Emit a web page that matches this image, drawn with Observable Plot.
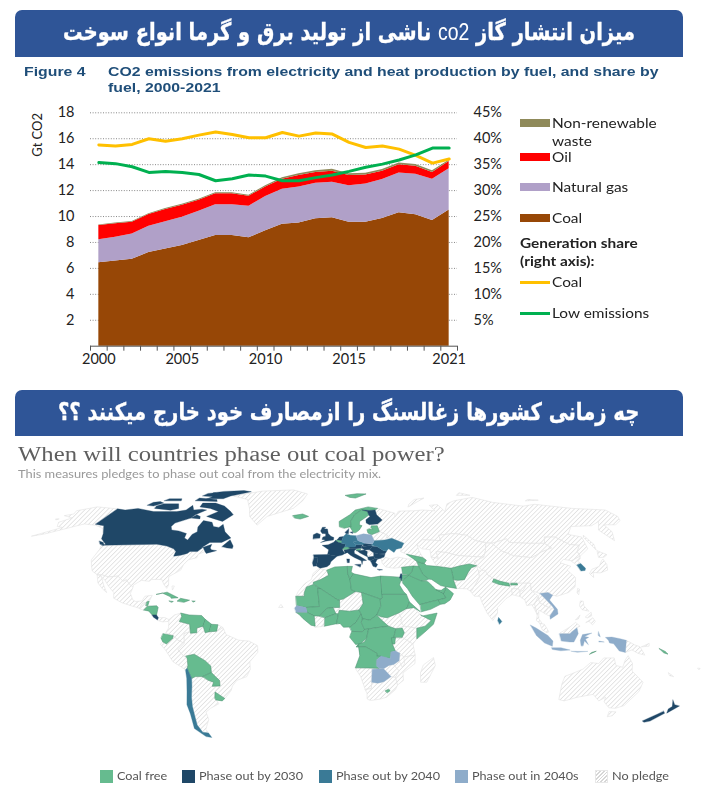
<!DOCTYPE html>
<html lang="fa"><head><meta charset="utf-8">
<script src="https://cdn.jsdelivr.net/npm/d3@7"></script>
<script src="https://cdn.jsdelivr.net/npm/@observablehq/plot@0.6"></script>
<style>
html,body{margin:0;padding:0;background:#fff}
#page{position:relative;width:711px;height:795px;overflow:hidden}
.abs{position:absolute;white-space:nowrap}
.banner{position:absolute;left:15px;width:668px;background:#2f5597;border-radius:7px 7px 0 0;color:#fff;font:bold 24px "DejaVu Sans";text-align:center;direction:rtl;unicode-bidi:isolate;white-space:nowrap;display:flex;justify-content:center}
.banner span.in{display:block;flex:none;-webkit-text-stroke:.35px #fff}
.banner i{font:400 24px "Liberation Sans";font-style:normal;-webkit-text-stroke:0}
.fig{font:bold 13.3px "Liberation Sans";color:#1f4e79;transform-origin:0 0;transform:scaleX(1.19)}
.lg{font:14px Lato;color:#222;transform-origin:0 0;transform:scaleX(1.1)}
.mlg{font:11.5px Lato;color:#555}
.sw{position:absolute}
svg{position:absolute;overflow:visible}
</style></head><body><div id="page"></div>
<script>
// ---------- Chart 1 data ----------
const years=[2000,2001,2002,2003,2004,2005,2006,2007,2008,2009,2010,2011,2012,2013,2014,2015,2016,2017,2018,2019,2020,2021];
const coal=[6.43,6.58,6.7,7.22,7.5,7.76,8.15,8.54,8.54,8.36,8.9,9.4,9.5,9.82,9.9,9.55,9.55,9.85,10.3,10.13,9.7,10.5];
const gas=[1.77,1.82,1.96,2.03,2.1,2.19,2.25,2.36,2.36,2.44,2.65,2.7,2.77,2.75,2.75,2.82,2.95,3.0,3.05,3.14,3.18,3.18];
const oil=[1.1,1.05,.89,.9,.95,.92,.85,.85,.85,.77,.72,.78,.9,.83,.85,.8,.7,.65,.65,.61,.52,.57];
const waste=[.05,.06,.07,.07,.07,.08,.08,.08,.08,.08,.1,.12,.13,.14,.14,.13,.13,.13,.13,.13,.13,.1];
const coalShare=[38.8,38.6,38.9,40,39.5,40,40.7,41.3,40.8,40.2,40.2,41.2,40.5,41.1,40.9,39.3,38.3,38.6,38,36.8,35.3,36.1];
const lowShare=[35.4,35.2,34.6,33.5,33.7,33.5,33.1,31.9,32.3,33,32.8,31.9,31.9,32.5,33,33.7,34.5,35.1,35.9,36.9,38.2,38.2];
const yTicks=[2,4,6,8,10,12,14,16,18];
const xLabels=[2000,2005,2010,2015,2021];
const bandEdges=[1999.5,2000.5,2001.5,2002.5,2003.5,2004.5,2005.5,2006.5,2007.5,2008.5,2009.5,2010.5,2011.5,2012.5,2013.5,2014.5,2015.5,2016.5,2017.5,2018.5,2019.5,2020.5,2021.5];
const fuels=["Coal","Natural gas","Oil","Non-renewable waste"];
const fuelColors=["#974706","#b0a0c8","#ff0000","#8f8a5a"];
const fuelValues=[coal,gas,oil,waste];

// ---------- Map data: [lon,lat] outlines ----------
const noPledge=[
[[-168,65.5],[-164,66.5],[-166,68.5],[-157,71],[-141,69.7],[-141,60.3],[-135,59.5],[-130,55],[-134,58],[-140,59.7],[-148,60.5],[-152,59],[-156,57.5],[-163,54.8],[-169,53.5],[-158,58.5],[-162,59],[-165,61.5],[-161,64]],
[[-124.7,48.4],[-95,49],[-89,48],[-84.5,46.5],[-82.5,45],[-82.5,42.5],[-79,43],[-76,44],[-75,45],[-71,45],[-69,47.3],[-67,45],[-70,43.5],[-70,41.7],[-74,40.5],[-75.5,38],[-76,35],[-81,31.5],[-80,27],[-80.5,25.2],[-82.5,27.5],[-84,30],[-89,30],[-90,29],[-94,29.5],[-97.3,27],[-97.2,25.9],[-99.5,27.5],[-101.5,29.8],[-103,29],[-106.5,31.8],[-111,31.3],[-114.8,32.5],[-117.1,32.5],[-120.5,34.5],[-122.5,37.5],[-124.3,40.5],[-124,46]],
[[-117.1,32.5],[-114.8,32.5],[-111,31.3],[-106.5,31.8],[-103,29],[-101.5,29.8],[-99.5,27.5],[-97.2,25.9],[-97.8,22.5],[-96,19],[-94.5,18.2],[-91.5,18.5],[-90.5,21],[-87,21.5],[-88,18],[-91,17.2],[-92.2,14.6],[-96,15.8],[-101,17.5],[-105.5,20],[-106,23],[-109,26],[-112.5,30],[-114.5,31]],
[[-117,32.5],[-114.7,31.7],[-112,27],[-109.5,23],[-112,25],[-115,28]],
[[-92.2,14.6],[-91,17.2],[-89,17.8],[-89.2,15.9],[-88.5,15.7],[-89.5,14.2],[-90.5,13.8]],
[[-83,8.3],[-82.6,9.5],[-79.5,9.6],[-77.5,8.5],[-78,7.5],[-80.5,7.3]],
[[-78,26.5],[-77,26.5],[-77.5,24.5]],
[[-55,82.5],[-73,78.5],[-60,76],[-54,70],[-51,65],[-44,59.8],[-40,65],[-25,70],[-20,75],[-18,80],[-30,83.5]],
[[-77.5,8.5],[-75,11],[-72,12],[-71.5,10],[-72.5,7.5],[-67.5,6],[-67.5,2],[-70,1],[-70,-4.2],[-73,-2.5],[-75.2,-.1],[-78.8,1.4],[-77.5,4],[-77.5,7]],
[[-81.3,-4.5],[-80.3,-3.4],[-78.5,-4.5],[-75.5,-1.5],[-75.2,-.1],[-73,-2.5],[-70,-4.2],[-73,-7.5],[-70.5,-11],[-69,-12.5],[-69,-16],[-69.5,-17.5],[-70.4,-18.3],[-76,-14],[-79,-8]],
[[-66,-22],[-62.5,-22],[-60,-24],[-57.5,-25],[-58.5,-27.2],[-54.6,-27],[-57.6,-30.2],[-58.4,-33.5],[-58,-34.5],[-57,-36.5],[-62,-39],[-65,-41],[-65,-45],[-69,-50.5],[-68.5,-52.5],[-71.5,-52],[-72.5,-48],[-71.8,-44],[-71,-38],[-70,-33],[-68.5,-27],[-68,-23]],
[[-73,-7.5],[-70,-4.2],[-70,1],[-67.5,2],[-67,1.2],[-64,1.5],[-64,4],[-61,5],[-60,1.5],[-58,2],[-54.5,2.3],[-51.5,4.2],[-50,.5],[-44,-2.5],[-39,-3],[-35,-5.5],[-35,-9],[-39,-14],[-39,-18],[-41,-22],[-46,-24],[-48.5,-27],[-49.5,-29.5],[-53.4,-33.7],[-57.6,-30.2],[-54.6,-27],[-54.5,-24],[-56,-22.3],[-58,-19.8],[-58,-16.3],[-60.5,-13.5],[-65.5,-10],[-69.5,-11],[-70.5,-11]],
[[-54,5.8],[-51.5,4.2],[-54.5,2.3]],
[[19.4,45],[20.5,46],[22.7,44.3],[22.5,42.4],[20.5,42.2],[19,43.2]],
[[28,60.5],[31.5,62.8],[29,66],[29,69],[31,70],[41,67],[40,64.7],[44,68.3],[54,68.5],[60,69],[68,68.5],[67,72],[73,72.5],[74,68],[80,73],[87,75],[104,77.5],[113,74],[130,71.5],[140,72.7],[160,70],[180,69],[180,65],[177,62.5],[170,60],[163,60],[162,56],[157,51],[155.5,57],[163,62],[155,59.5],[142,59],[135,54.5],[141,53],[138,46.5],[132,43.2],[130.7,42.5],[131,45],[135,48.4],[130,48.9],[126,53],[120,53],[117,49.5],[108,49.5],[98,50],[98,52],[88,49.5],[80,51],[77,54],[70,55],[61,54],[61,51],[51,51.5],[47,49],[47,45.5],[48,41.8],[40,43.5],[37,45],[38,47],[40,49.6],[34,52.3],[31,52.5],[32,54],[28,56.2],[27.5,59.4]],
[[23,54.3],[24,51],[30,51.4],[31,52.5],[32,54],[28,56.2],[26.5,55.5]],
[[47,49],[51,51.5],[61,51],[61,54],[70,55],[77,54],[80,51],[85,49.7],[82.5,45.5],[80,42],[71,42.5],[66,43],[61,44.5],[56,45],[56,41.3],[52.5,42],[53,46],[49,46.5]],
[[52.5,42],[56,41.3],[56,45],[61,44.5],[66,43],[71,42.5],[80,42],[74,39.5],[75,37.3],[71,38.3],[66,37.3],[61,36],[54,37.3],[53,40]],
[[88,49.5],[98,52],[98,50],[108,49.5],[117,49.5],[119,47],[112,44.8],[105,41.7],[96,42.7],[91,45.3]],
[[74,39.5],[80,42],[82.5,45.5],[85,49.7],[88,49.5],[91,45.3],[96,42.7],[105,41.7],[112,44.8],[119,47],[117,49.5],[120,53],[126,53],[130,48.9],[135,48.4],[131,45],[130.7,42.5],[124.5,40],[121,40.8],[118,39],[122.5,37],[119.5,35],[122,31],[120,26],[116,23],[110,21],[108,21.6],[106,23],[102,22.5],[98,24],[98.5,28],[92,28],[86,28],[81,30.3],[78.5,32.5],[75,37]],
[[124.5,40],[130.7,42.5],[129.7,41],[127.5,39.7],[128.4,38.5],[126,37.8]],
[[130,33],[131,31],[132,33.7],[135.5,33.5],[140,35],[141.5,38],[141.5,41],[140,40],[137,37],[132.5,35.5]],
[[140,42],[142,45.5],[145.5,43.3],[143,42]],
[[142,46],[143.5,49],[143,54],[142,53]],
[[120.2,23],[121,25.2],[121.8,24.8],[120.8,22]],
[[68.5,23.5],[71,27],[74,31],[74.5,34.5],[78,35],[78.5,32.5],[81,30.3],[80,28.8],[88,26.4],[88.5,28],[92,28],[97,28],[94,24],[92.3,23.5],[92,25],[88.5,25],[88.5,22],[85,19.7],[80.3,15],[80,12],[77.5,8],[75,12],[73,18],[72.5,21],[70,21]],
[[61,29.5],[63,29.5],[66.3,29.9],[69.3,34],[71.5,36.3],[74.5,37],[74.5,34.5],[74,31],[71,27],[68.5,23.5],[66.5,25],[61.6,25.2]],
[[26.3,41.5],[28,42],[31,41],[35,42],[40,41],[43,41],[44.5,39.5],[44.8,37],[42,37.2],[36,36.5],[32,36],[28,36.7],[26.5,38.5]],
[[-5.9,35.8],[-2,35],[-1.2,32.2],[-5,30],[-8.7,28.5],[-8.7,26],[-12,26],[-13,23],[-13,21],[-17,21],[-16,23.5],[-13,27.7],[-9.7,30],[-9,33]],
[[-8,10.5],[-5.5,10.4],[-2.8,9.5],[-3,5],[-7.5,4.4]],
[[1,15],[4.2,15],[4.2,19],[6,19.5],[12,23.5],[15,23],[15.5,17],[13.5,13.7],[9,13],[4,13.5],[3.6,11.7],[2.4,11.7]],
[[24,8.5],[24,10],[27,9.5],[32.5,12],[34,9],[33.5,7.5],[35,5],[31,3.6],[27.5,5]],
[[33.5,7.5],[34,9],[32.5,12],[36.5,14.5],[40,14.8],[43,11],[48,8],[45,5],[41,3.9],[35,5]],
[[34,4],[35,5],[41,3.9],[41,-1.7],[39.2,-4.6],[34,-1],[35,1.5]],
[[30,-1],[34,-1],[39.2,-4.6],[40.4,-10.5],[35,-11.5],[33,-9.5],[30.8,-8.2],[29.5,-5]],
[[49.3,-12],[50.4,-16],[47,-25],[44,-25],[43.5,-20],[44.5,-16]],
[[11.8,-17.3],[18.5,-17.4],[23.4,-17.6],[25,-17.8],[20,-18],[20,-22],[20,-28.5],[17,-28.8],[14.5,-22]],
[[17,-28.8],[20,-28.5],[20,-25],[23,-25.5],[26,-24.7],[29.3,-22],[31.5,-22.3],[32.8,-26.5],[32,-29],[28,-33],[25,-34],[20,-34.8],[18.3,-34],[18,-31]],
[[25.5,-17.8],[28,-16],[30.3,-15.5],[33,-19],[31.5,-22.3],[29.3,-22]],
[[30.3,-15.5],[32.8,-13.5],[34.5,-11.5],[35,-11.5],[40.4,-10.5],[40.5,-15],[35,-20],[35.5,-24],[32.8,-26.5],[31.5,-22.3],[33,-19]],
[[33,-9.5],[35,-11.5],[35.5,-15],[34.5,-17],[33,-14]],
[[92.3,20.5],[92.3,23.5],[94,24],[97,28],[98.5,28],[98,24],[101,21],[98.5,17],[99,11],[98,14],[97,16.5],[94.5,16],[94,19]],
[[88.5,22],[88.5,25],[92,25],[92.3,23.5],[92,21]],
[[98.5,17],[101,21],[101,17.5],[105,15],[102.5,12],[100,13.5],[99.5,9],[101,6.5],[100,6.5],[98.3,8],[99,11]],
[[101,21],[102,22.5],[104.5,19],[106.5,16],[105,15],[101,17.5]],
[[102.5,12],[105,15],[107.5,14],[105,10.5]],
[[100,6.5],[102,6],[104,2],[103,1.5],[101,3]],
[[109.5,1.5],[114,4.5],[117,7],[119,5],[117.5,4.2],[115,2],[114,1],[110,1]],
[[141,-2.6],[145,-5],[147.7,-6],[150.5,-10.5],[147,-9.5],[144,-7.7],[141,-9.1]],
[[148.5,-6],[152,-4.2],[152,-5.5]],
[[164,-20],[167,-22],[165,-21.5]],
[[177.5,-17.5],[178.6,-17.6],[178.3,-18.2]],
[[120,16],[120.8,18.5],[122.2,18.4],[122,16],[124,13],[121,13.8]],
[[122,7],[125.5,9.5],[126.5,7.5],[125,5.7],[123.5,7.5]],
[[122,10],[125,12.5],[125,10.5],[123,9.5]],
[[117.2,8.5],[119.5,11],[118.5,9]],
[[114,-22],[113.5,-26],[115,-34.3],[118,-35],[124,-33],[131,-31.5],[135.5,-35],[138,-33],[138.5,-35.5],[143,-38.7],[146.5,-39],[150,-37.5],[153,-30],[153,-25],[146,-19],[145.3,-15],[142.5,-10.8],[141.5,-13],[141,-17],[137.5,-16],[136,-12],[131,-12],[129,-15],[125,-14.5],[122,-18],[117,-20.5]],
[[144.7,-40.7],[148.3,-40.9],[148,-43],[146,-43.5]],
[[52,71],[57,73],[68,77],[60,76],[54,73]],
[[95,79],[105,79],[100,81]],
[[138,75],[148,75.5],[142,76]],
[[-170,63.5],[-168,63.5],[-169,63]],
[[-25,15],[-23,15],[-24,16.5]]
];
const coalFree=[
[[-24,65.5],[-18,66.5],[-14,65],[-19,63.4],[-22.5,64]],
[[11,79],[20,80.2],[27,80],[18,77],[14,77.5]],
[[5,59],[5,62],[12,66],[16,69],[25,71],[31,70],[29,69],[25,68.7],[20,69],[15,66],[12,62],[12,59],[8,58]],
[[12,59],[12,62],[15,66],[20,69],[23.7,68],[24,65.8],[21,64],[17.5,62],[17,60],[18.5,59.5],[16.5,57],[14.3,55.5],[13,55.4],[11.2,58.9]],
[[21,57],[21.2,55.3],[23,54.3],[26.5,55.5],[28,56.2],[27.5,59.4],[24,59.4],[23.5,58.5],[24.4,57.3],[22.5,57.7]],
[[2.5,51.1],[4.2,51.4],[6,50.8],[5.8,49.6],[4.2,50]],
[[6,46.3],[7.5,47.6],[9.6,47.5],[10.4,46.7],[8.5,46]],
[[13.7,46.5],[16.2,46.6],[15.5,45.5],[13.7,45.5]],
[[-89,18],[-88,18.3],[-88.3,16],[-89.2,16]],
[[-90,13.7],[-89.5,14.2],[-88.5,15.7],[-84,15.9],[-83.2,15],[-83.6,11],[-85.7,11],[-87.5,13]],
[[-85,22],[-80,23.2],[-74.2,20.2],[-77.5,19.9],[-78,20.7],[-82,22.6]],
[[-74.4,18.5],[-73,19.9],[-68.5,18.9],[-71,17.8]],
[[-78.3,18.5],[-76.3,18.2],[-77,17.8]],
[[-67.2,18.5],[-65.7,18.4],[-66.5,17.9]],
[[-72,12],[-68,11],[-62,10.7],[-60,8.5],[-61,5],[-64,4],[-64,1.5],[-67,1.2],[-67.5,6],[-72.5,7.5],[-71.5,10]],
[[-60,8.5],[-57,6],[-58,2],[-60,1.5],[-61,5]],
[[-57,6],[-54,5.8],[-54.5,2.3],[-58,2]],
[[-80,1],[-75.2,-.1],[-75.5,-1.5],[-78.5,-4.5],[-80.3,-3.4],[-81,-1.5]],
[[-69.5,-11],[-65.5,-10],[-60.5,-13.5],[-58,-16.3],[-58,-19.8],[-62.5,-22],[-66,-22],[-68,-23],[-69.5,-17.5],[-69,-16],[-69,-12.5]],
[[-62.5,-22],[-58,-19.8],[-56,-22.3],[-54.5,-24],[-54.6,-27],[-58.5,-27.2],[-57.5,-25],[-60,-24]],
[[-58.4,-33.5],[-57.6,-30.2],[-53.4,-33.7],[-55,-35],[-58,-34.5]],
[[61,36],[66,37.3],[71,38.3],[74.5,37.3],[71.5,36.3],[69.3,34],[66.3,29.9],[63,29.5],[60.8,29.8],[61,33]],
[[44.5,39.5],[48,38.5],[49,37.5],[54,37],[61,36],[61,33],[60.8,29.8],[61.6,25.2],[57,26],[54,26.7],[50,30],[48.5,30.2],[46,33],[44.8,37]],
[[39,32.2],[41,34.5],[42,37.2],[44.8,37],[46,33],[48.5,30.2],[47.5,29.5],[44.7,29.2]],
[[36,33],[36,36.5],[42,37.2],[41,34.5],[39,32.3]],
[[35,29.4],[35.5,32.5],[39,32.2],[37,30.5]],
[[35.5,29.4],[37,30.5],[39,32.2],[44.7,29.2],[47.5,29],[48.3,28.5],[50,26.5],[51.5,24.5],[55,22.7],[55.7,20],[52,19],[48.8,18.2],[43.2,16.6],[42.8,16.4],[39.6,21],[37.6,25],[35.5,28]],
[[43.2,16.6],[48.8,18.2],[52,19],[53,16.7],[48,14],[43.5,12.7]],
[[55,22.7],[56,24.5],[56.3,26],[58.7,23.5],[59.8,22.4],[57.8,19],[55,17],[53,16.7],[52,19],[55.7,20]],
[[51.5,24.5],[54,24.2],[56.3,25.8],[56,24.5],[55,22.7]],
[[40,43.5],[48,41.8],[49.5,40.3],[48,38.5],[44.5,39.5],[43,41]],
[[80,28.8],[81,30.3],[84,29],[88,28],[88,26.4],[83,27.3]],
[[88.7,27],[92,27],[92,28],[89,28]],
[[-2,35],[2,36.7],[8.5,37],[8.5,33],[9.5,30],[10,24.5],[12,23.5],[6,19.5],[3.3,19],[-5,25],[-8.7,27.5],[-8.7,28.5],[-5,30],[-1.2,32.2]],
[[8.5,37],[11,37],[10.2,34],[11.5,33],[9.5,30],[8.5,33]],
[[11.5,33],[15,32.2],[20,31],[25,31.8],[25,22],[25,20],[24,19.5],[15,23],[12,23.5],[10,24.5],[9.5,30]],
[[25,31.8],[31,31.5],[34.3,31.2],[34.7,29.5],[33.8,27],[35.5,23.5],[36.8,22],[25,22]],
[[-17,21],[-13,21],[-13,23],[-12,26],[-8.7,27.3],[-5,25],[-6.5,25],[-5.5,15.5],[-12,15],[-16.5,16]],
[[-5,25],[3.3,19],[4.2,19],[4.2,15],[1,15],[-2,14.5],[-5.5,10.4],[-8,10.5],[-11.4,12.3],[-12,15],[-5.5,15.5],[-6.5,25]],
[[-16.7,12.4],[-11.4,12.3],[-8,10.5],[-7.5,5],[-9.5,5.5],[-13.3,9],[-15,11]],
[[-5.5,10.4],[-2,14.5],[1,15],[2.4,11.7],[-2.8,9.5]],
[[-2.8,9.5],[2.4,11.7],[3.6,11.7],[2.7,6.3],[-3,5]],
[[2.7,6.3],[3.6,11.7],[4,13.5],[9,13],[13.5,13.7],[14.5,11.5],[12,7],[9,4.5],[6,4.4],[4.5,6.3]],
[[15,23],[24,19.5],[24,15.5],[22,11],[18.7,8.2],[15,9],[14.5,11.5],[13.5,13.7],[15.5,17]],
[[24,19.5],[25,20],[25,22],[36.8,22],[38,18],[36.5,14.5],[32.5,12],[27,9.5],[24,10],[22,11],[24,15.5]],
[[14.5,7],[15,9],[18.7,8.2],[22,11],[24,8.5],[27.5,5],[22,4.2],[16,3.2]],
[[9,4.5],[12,7],[14.5,11.5],[15,9],[14.5,7],[16,3.2],[15,2],[10,2.2]],
[[9.5,1],[10,2.2],[15,2],[16,3.2],[18,3.5],[17,-1.5],[14,-4.5],[11.8,-4.8],[9,-1]],
[[12.2,-6],[13,-4.7],[16,-3.5],[17,-1.5],[18,3.5],[22,4.2],[27.5,5],[31,3.6],[30,-1],[29.5,-5],[30.8,-8.2],[28.7,-8.8],[28.5,-12.3],[22,-11],[22,-9.5],[16.5,-6]],
[[13,-5],[12.2,-6],[16.5,-6],[22,-9.5],[22,-11],[24,-11],[22,-13],[22,-16.3],[23.4,-17.6],[18.5,-17.4],[11.8,-17.3],[13.8,-11]],
[[30,-1],[31,3.6],[34,4],[35,1.5],[34,-1]],
[[29,-1.2],[30.8,-1],[30.5,-4.5],[29.5,-4.5]],
[[41,-1.7],[41,3.9],[45,5],[48,8],[43,11],[44,10.5],[51,12],[49,6],[45,2]],
[[36.5,14.5],[38,18],[43,12.7],[40,14.8]],
[[27,-29.6],[28.5,-28.7],[29.4,-29.5],[28.2,-30.6]],
[[124,-10],[127,-8.4],[125,-9]],
[[157,-7],[160,-8.5],[161.5,-10],[159.5,-9.3]]
];
const phase2030=[
[[-141,69.7],[-135,69],[-128,70],[-115,68],[-108,68],[-100,68],[-95,69],[-94,72],[-90,69],[-85,69.5],[-81.5,69],[-86,66],[-87,64],[-94,61],[-94.5,59],[-92.5,57],[-88,56.5],[-82.5,55],[-82,52.5],[-79.5,51.3],[-79,54.5],[-77,56],[-78.5,58.7],[-78,62.5],[-72,61.5],[-69.5,59],[-66,58.5],[-64.5,60.3],[-61,56],[-56,52.5],[-60,50],[-66.5,50],[-70,47],[-65,49],[-65,47],[-64,46],[-61,45.5],[-66,44],[-67,45],[-69,47.3],[-71,45],[-75,45],[-76,44],[-79,43],[-82.5,42.5],[-82.5,45],[-84.5,46.5],[-89,48],[-95,49],[-124.7,48.4],[-123,49],[-128,52],[-130,55],[-135,59.5],[-141,60.3]],
[[-59,47.7],[-56,51.5],[-53,48],[-53,46.7],[-56,47]],
[[-62,66],[-66,62],[-72,63.5],[-78,65],[-73,68],[-80,70],[-88,71],[-89,73.5],[-80,73.5],[-72,71.5],[-65,68]],
[[-117,70],[-105,68.8],[-101,70],[-105,73],[-115,73],[-118,71.5]],
[[-125,72],[-120,71.5],[-116,73.5],[-120,74.5],[-124,74]],
[[-87,64],[-81,63.5],[-82,65],[-85,66]],
[[-90,76.5],[-78,76.5],[-75,78.5],[-63,82],[-70,83],[-85,82.3],[-92,81],[-88,78]],
[[-96,75],[-80,74.5],[-82,76],[-96,77]],
[[-118,75],[-106,75],[-108,76.5],[-117,76.5]],
[[-96,78.5],[-87,78],[-90,81],[-95,80.5]],
[[-128,50.8],[-125,50],[-123.5,48.5],[-126,49]],
[[-85.7,11],[-83.6,11],[-82.6,9.5],[-83,8.3],[-85,9.8]],
[[-10,52],[-10,54.3],[-8,55.3],[-6,54.5],[-6.2,52.5]],
[[-5.5,50],[-3,50.7],[1.4,51.3],[1.7,52.7],[0,53.5],[-1.5,55],[-2,57.6],[-4,57.7],[-3,58.6],[-5,58.6],[-6,56.5],[-5,55],[-3,54.9],[-3,53.4],[-4.5,53],[-5,51.7],[-3,51.3]],
[[-9.2,43.2],[-1.8,43.4],[3.2,42.4],[0,39.5],[-.5,38],[-2,36.8],[-5.5,36],[-7.4,37.2],[-7,39.5],[-6.7,41.9],[-8.8,41.9]],
[[-8.8,41.9],[-6.7,41.9],[-7,39.5],[-7.4,37.2],[-9,37],[-9.5,38.8]],
[[-1.8,43.4],[-1.2,46],[-4.8,48.4],[-1.5,48.7],[1.5,50.1],[2.5,51.1],[4.2,50],[8.2,49],[7.5,47.6],[6,46.3],[7.5,44],[6,43.1],[3.2,42.4]],
[[3.4,51.4],[4.8,53],[7,53.3],[6,51],[4.2,51.4]],
[[8.1,55.5],[8.7,54.9],[10,54.8],[10.5,57.7]],
[[11,55.6],[12.5,55],[12.5,56]],
[[9.6,47.5],[13,47.5],[13.7,48.7],[17,48.7],[16.5,46.9],[13,46.5],[10.4,46.7]],
[[17,48.7],[18.8,49.5],[22.5,49],[22,48.4],[18,47.8]],
[[16.5,46.9],[17,48],[18,47.8],[22,48.4],[22.8,47.9],[20.5,46],[18,45.8]],
[[22.8,47.9],[24.9,47.7],[28.2,45.5],[29.7,45.2],[28.6,43.8],[25,43.7],[22.7,44.3],[20.5,46]],
[[7.5,44],[7,45.8],[8.5,46],[10.4,46.7],[13.7,46.5],[12.4,45.3],[12.5,44],[16,41.9],[18.5,40.2],[16.5,40],[16,38],[15.7,40],[12.2,41.8],[10.3,43],[8.8,44.4]],
[[12.4,38],[15.5,38.2],[15,36.7]],
[[8.3,41],[9.7,41],[9.5,39],[8.5,39]],
[[13.7,45.5],[15.5,45.6],[18,45.8],[19.4,45],[19,43.2],[19.3,42],[18.5,42.5],[15.2,44.3],[14.3,45.2]],
[[19.3,42],[20.5,42.2],[22.5,42.4],[23,41.3],[20.5,40],[19.4,40.5]],
[[20.5,40],[23,41.3],[26.3,41.5],[24,40.7],[23,39],[24,38],[23,36.5],[21.5,37],[21,38.5]],
[[23.6,35.5],[26.2,35.2],[24.5,34.9]],
[[22.7,44.3],[25,43.7],[28.6,43.6],[27.8,42],[26.3,41.5],[23,41.3],[22.5,42.4]],
[[20.7,69],[25,68.7],[29,69],[29,66],[31.5,62.8],[28,60.5],[23,60],[21.3,61],[21.5,63],[24.5,65],[24,65.8],[23.7,68]],
[[34.3,31.2],[35,33],[35.6,33],[35.4,31],[35,29.5]],
[[172.7,-34.5],[175.5,-37],[178.5,-37.7],[177,-39.5],[175.3,-41.6],[174,-39.3],[175,-38]],
[[172.7,-40.5],[174.3,-41.7],[170.8,-45.9],[168.3,-46.6],[166.5,-45.8],[171,-42]]
];
const phase2040=[
[[6,51],[7,53.3],[8.7,54.9],[11,54],[14.2,53.8],[15,51],[12.2,50.3],[13.7,48.7],[13,47.5],[9.6,47.5],[7.5,47.6],[8.2,49],[5.8,49.6],[6,50.8]],
[[12.2,50.3],[15,51],[18.8,49.5],[17,48.7],[13.7,48.7]],
[[22,48.4],[22.7,49.1],[24,51],[30,51.4],[34,52.3],[40,49.6],[38,47],[35,46.2],[33.5,44.5],[31,46.5],[29.7,45.3],[28.2,45.5],[24.9,47.7]],
[[-70.4,-18.3],[-69.5,-17.5],[-68,-23],[-68.5,-27],[-70,-33],[-71,-38],[-71.8,-44],[-72.5,-48],[-71.5,-52],[-68.5,-52.5],[-68,-55],[-71,-54.5],[-75,-50],[-73.5,-42],[-73.5,-37],[-71.5,-30],[-70.4,-23]],
[[126,37.8],[128.4,38.5],[129.4,36],[128.5,34.8],[126.3,34.5]],
[[79.8,8],[80.3,9.7],[81.8,7.5],[80.6,6]]
];
const phase2040s=[
[[14.2,53.8],[18.5,54.8],[23,54.3],[24,51],[22.7,49.1],[18.8,49.5],[15,51]],
[[-17.5,14.7],[-16.5,16],[-12,15],[-11.4,12.4],[-16.7,12.4]],
[[22,-13],[24,-11],[28.5,-12.3],[28.7,-8.8],[30.8,-8.2],[33,-9.5],[32.8,-13.5],[30.3,-15.5],[28,-16],[25.5,-17.8],[23.4,-17.6],[22,-16.3]],
[[20,-18],[25.5,-17.8],[29.3,-22],[26,-24.7],[23,-25.5],[20,-25]],
[[102,22.5],[106,23],[108,21.6],[106,19],[109,14],[109,11.5],[105,8.7],[105,10.5],[107.5,14],[106.5,16],[104.5,19]],
[[109,1],[110,1],[114,1],[115,2],[117.5,4.2],[118,1],[116,-3.5],[114,-3.5],[110,-3]],
[[95.3,5.6],[98,4],[103.5,0],[106,-3],[105.8,-5.8],[102,-4],[98,0]],
[[105.5,-6.5],[110,-6.5],[114.5,-7.8],[110,-8.2],[106,-7.5]],
[[119.5,-5.5],[119,-2.5],[120,.5],[124.5,1.3],[121,-.5],[123,-1],[121.5,-2],[123,-5],[121,-3],[120.5,-5.5]],
[[115,-8.4],[119,-8.5],[123,-8.5],[118,-9]],
[[131,-1],[134,-.8],[138,-1.7],[141,-2.6],[141,-9.1],[138,-8.3],[135,-4.4],[133,-4],[132.5,-2.7]],
[[127.7,2],[128.5,-.8],[127.5,0]],
[[128,-3],[130.5,-3.5],[128,-3.5]]
];
const legendNames=["Coal free","Phase out by 2030","Phase out by 2040","Phase out in 2040s","No pledge"];
const legendColors=["#66bb8f","#1f4767","#3a7a96","#8eacca","url(#hatch)"];

// Robinson projection table
const robLat=[0,5,10,15,20,25,30,35,40,45,50,55,60,65,70,75,80,85,90];
const robLen=[1,.9986,.9954,.99,.9822,.973,.96,.9427,.9216,.8962,.8679,.835,.7986,.7597,.7186,.6732,.6213,.5722,.5322];
const robDrop=[0,.062,.124,.186,.248,.31,.372,.434,.4958,.5571,.6176,.6769,.7346,.7903,.8435,.8936,.9394,.9761,1];
const lenAt=d3.scaleLinear(robLat,robLen), dropAt=d3.scaleLinear(robLat,robDrop);

const page=document.getElementById("page");
function el(cls,css,html){const d=document.createElement("div");d.className=cls;d.style.cssText=css;d.innerHTML=html||"";page.appendChild(d);return d;}

// banners
el("banner","top:10px;height:47px;line-height:45px",'<span class="in" style="transform:scaleX(.81)">میزان انتشار گاز <i>co2</i> ناشی از تولید برق و گرما انواع سوخت</span>');
el("banner","top:390px;height:46px;line-height:45px",'<span class="in" style="transform:scaleX(.815)">چه زمانی کشورها زغالسنگ را ازمصارف خود خارج میکنند ؟؟</span>');
// chart heading
el("abs fig","left:24px;top:64px","Figure 4");
el("abs fig","left:108px;top:64px;line-height:15.5px","CO2 emissions from electricity and heat production by fuel, and share by<br>fuel, 2000-2021");

// chart 1
const stackRows=fuels.flatMap((f,i)=>years.map((y,j)=>({year:y,fuel:f,value:fuelValues[i][j]})));
const shareScale=v=>v*18/45;
const chart=Plot.plot({
  width:711,height:270,marginLeft:90,marginRight:254,marginTop:12.3,marginBottom:24.3,
  style:{fontFamily:"Lato",fontSize:"14.5px",color:"#222",background:"transparent"},
  x:{domain:[1999.5,2021.5],axis:null},
  y:{domain:[0,18],axis:null},
  color:{domain:fuels,range:fuelColors},
  marks:[
    Plot.ruleY(yTicks,{stroke:"#888",strokeDasharray:"1 1.6",strokeWidth:1}),
    Plot.areaY(stackRows,{x:"year",y:"value",fill:"fuel",order:fuels}),
    Plot.line(years.map((y,i)=>({y,v:shareScale(coalShare[i])})),{x:"y",y:"v",stroke:"#ffc000",strokeWidth:3}),
    Plot.line(years.map((y,i)=>({y,v:shareScale(lowShare[i])})),{x:"y",y:"v",stroke:"#00b050",strokeWidth:3}),
    Plot.ruleY([0],{stroke:"#555",strokeWidth:1}),
    Plot.axisX(bandEdges,{tickFormat:()=>"",tickSize:5,stroke:"#555",label:null}),
    Plot.axisX(xLabels,{tickSize:0,tickPadding:8,tickFormat:d3.format("d"),label:null,fontSize:14.5,fill:"#222"}),
    Plot.axisY(yTicks,{anchor:"left",tickSize:0,tickPadding:16,label:null}),
    Plot.axisY(yTicks,{anchor:"right",tickSize:0,tickPadding:16,label:null,tickFormat:v=>(v*45/18)+"%"}),
    Plot.text(["Gt CO2"],{frameAnchor:"top-left",dx:-58,dy:22,rotate:-90,fontSize:13,fill:"#222",textAnchor:"middle"})
  ]
});
chart.style.left="0";chart.style.top="100px";page.appendChild(chart);

// chart 1 legend
const leg=[["Non-renewable",123,"#8f8a5a",8],["Oil",157,"#ff0000",8],["Natural gas",187,"#b0a0c8",8],["Coal",218,"#974706",8],["Coal",282,"#ffc000",3],["Low emissions",313,"#00b050",3]];
leg.forEach(([t,y,c,h])=>{
  el("sw",`left:520px;top:${y-h/2}px;width:30px;height:${h}px;background:${c}`);
  el("abs lg",`left:552px;top:${y-9}px;line-height:18px`,t);
});
el("abs lg","left:552px;top:132px;line-height:17px","waste");
el("abs lg","left:520px;top:234px;line-height:17.5px;font-weight:700","Generation share<br>(right axis):");

// map heading
el("abs","left:18px;top:443px;font:20px/22px 'Liberation Serif';color:#5f5f5f;transform-origin:0 0;transform:scaleX(1.235)","When will countries phase out coal power?");
el("abs","left:18px;top:467px;font:11.7px/13px Lato;color:#999;transform-origin:0 0;transform:scaleX(1.1)","This measures pledges to phase out coal from the electricity mix.");

// map
const mapTop=480, cx=330.4, eq=635-mapTop, kx=2.097, ky=150.7;
const robinson=d3.geoTransform({point(lon,lat){
  const a=Math.abs(lat);
  this.stream.point(cx+kx*lon*lenAt(a), eq-Math.sign(lat)*ky*dropAt(a));
}});
const toFeatures=rings=>rings.map(r=>({type:"Feature",properties:{},geometry:{type:"Polygon",coordinates:[[...r,r[0]]]}}));
function hatchDefs(){
  const defs=d3.create("svg:defs");
  const p=defs.append("pattern").attr("id","hatch").attr("patternUnits","userSpaceOnUse").attr("width",3.2).attr("height",3.2).attr("patternTransform","rotate(45)");
  p.append("rect").attr("width",3.2).attr("height",3.2).attr("fill","#fff");
  p.append("line").attr("x1",0).attr("x2",0).attr("y1",0).attr("y2",3.2).attr("stroke","#d6d6d6").attr("stroke-width",1.2);
  return defs.node();
}
const map=Plot.plot({
  width:711,height:270,margin:0,
  projection:{stream:robinson.stream},
  style:{background:"transparent",filter:"blur(0.35px)"},
  marks:[
    hatchDefs,
    Plot.geo(toFeatures(noPledge),{fill:"url(#hatch)",stroke:"#e2e2e2",strokeWidth:.6}),
    Plot.geo(toFeatures(coalFree),{fill:legendColors[0],stroke:"#4d8f70",strokeWidth:.5}),
    Plot.geo(toFeatures(phase2030),{fill:legendColors[1],stroke:legendColors[1],strokeWidth:.3}),
    Plot.geo(toFeatures(phase2040),{fill:legendColors[2],stroke:legendColors[2],strokeWidth:.3}),
    Plot.geo(toFeatures(phase2040s),{fill:legendColors[3],stroke:legendColors[3],strokeWidth:.3})
  ]
});
map.style.left="0";map.style.top=mapTop+"px";page.appendChild(map);

// map legend
const legX=[100,182,319,455,595];
legendNames.forEach((n,i)=>{
  const bg=i<4?`background:${legendColors[i]}`:"background:repeating-linear-gradient(135deg,#fff 0 1.6px,#d6d6d6 1.6px 2.6px);outline:1px solid #e8e8e8;outline-offset:-1px";
  el("sw",`left:${legX[i]}px;top:770px;width:13px;height:13px;${bg}`);
  el("abs mlg",`left:${legX[i]+17}px;top:769px;transform-origin:0 0;transform:scaleX(1.1)`,n);
});
</script></body></html>
